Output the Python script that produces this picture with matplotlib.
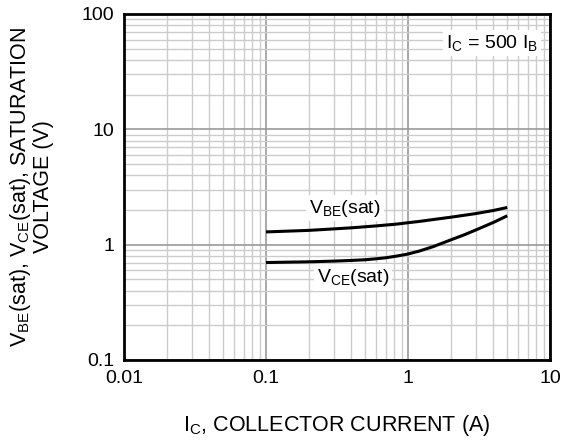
import numpy as np
import matplotlib
matplotlib.use("Agg")
from matplotlib import pyplot as plt
from matplotlib.ticker import FixedLocator, NullFormatter

plt.rcParams['font.family'] = ['Liberation Sans', 'DejaVu Sans']
plt.rcParams['mathtext.fontset'] = 'custom'
plt.rcParams['mathtext.rm'] = 'Liberation Sans'
plt.rcParams['mathtext.it'] = 'Liberation Sans'

# Data
ic = [0.1, 0.2, 0.3, 0.4, 0.5, 0.6, 0.7, 0.8, 0.9, 1.0, 1.2, 1.5, 2.0, 2.5, 3.0, 4.0, 5.0]
vbe_sat = [1.29, 1.33, 1.37, 1.40, 1.43, 1.455, 1.48, 1.50, 1.525, 1.55, 1.59, 1.65, 1.73, 1.80, 1.86, 1.98, 2.1]
vce_sat = [0.70, 0.71, 0.72, 0.73, 0.74, 0.755, 0.77, 0.79, 0.81, 0.83, 0.88, 0.96, 1.10, 1.22, 1.34, 1.56, 1.78]

xticks = [0.01, 0.1, 1, 10]
xticklabels = ["0.01", "0.1", "1", "10"]
yticks = [0.1, 1, 10, 100]
yticklabels = ["0.1", "1", "10", "100"]

FS = 14
LFS = 15.5

fig = plt.figure(figsize=(5.68, 4.43), dpi=100)
ax = fig.add_axes([124/568, 1-360/443, 426/568, 346/443])

ax.set_xscale("log")
ax.set_yscale("log")
ax.set_xlim(0.01, 10)
ax.set_ylim(0.1, 100)

minor_x = [m * d for d in [0.01, 0.1, 1] for m in range(2, 10)]
minor_y = [m * d for d in [0.1, 1, 10] for m in range(2, 10)]
ax.xaxis.set_major_locator(FixedLocator(xticks))
ax.yaxis.set_major_locator(FixedLocator(yticks))
ax.xaxis.set_minor_locator(FixedLocator(minor_x))
ax.yaxis.set_minor_locator(FixedLocator(minor_y))
ax.xaxis.set_minor_formatter(NullFormatter())
ax.yaxis.set_minor_formatter(NullFormatter())
ax.set_xticklabels(xticklabels)
ax.set_yticklabels(yticklabels)

ax.grid(which="minor", color="#cccccc", linewidth=1.0)
ax.grid(which="major", color="#999999", linewidth=1.2)
ax.tick_params(which="both", length=0, labelsize=FS, pad=7)
for s in ax.spines.values():
    s.set_linewidth(2)
    s.set_color("black")
ax.set_axisbelow(True)

ax.plot(ic, vbe_sat, color="black", linewidth=2.2, solid_capstyle="butt")
ax.plot(ic, vce_sat, color="black", linewidth=2.2, solid_capstyle="butt")

box = dict(facecolor="white", edgecolor="none", pad=2)
ax.text(0.36, 2.07, r"V$_{\mathregular{BE}}$(sat)", fontsize=FS, ha="center", va="center", bbox=box)
ax.text(0.41, 0.52, r"V$_{\mathregular{CE}}$(sat)", fontsize=FS, ha="center", va="center", bbox=box)
ax.text(3.9, 56, r"I$_{\mathregular{C}}$ = 500 I$_{\mathregular{B}}$", fontsize=FS, ha="center", va="center", bbox=box)

fig.text(337/568, 1-431/443, r"I$_{\mathregular{C}}$, COLLECTOR CURRENT (A)", fontsize=LFS, ha="center", va="baseline")
fig.text(31/568, 1-187/443, "V$_{\\mathregular{BE}}$(sat), V$_{\\mathregular{CE}}$(sat), SATURATION\nVOLTAGE (V)",
         fontsize=LFS, ha="center", va="center", rotation=90, multialignment="center", linespacing=1.05)

fig.savefig("out.png", dpi=100)
